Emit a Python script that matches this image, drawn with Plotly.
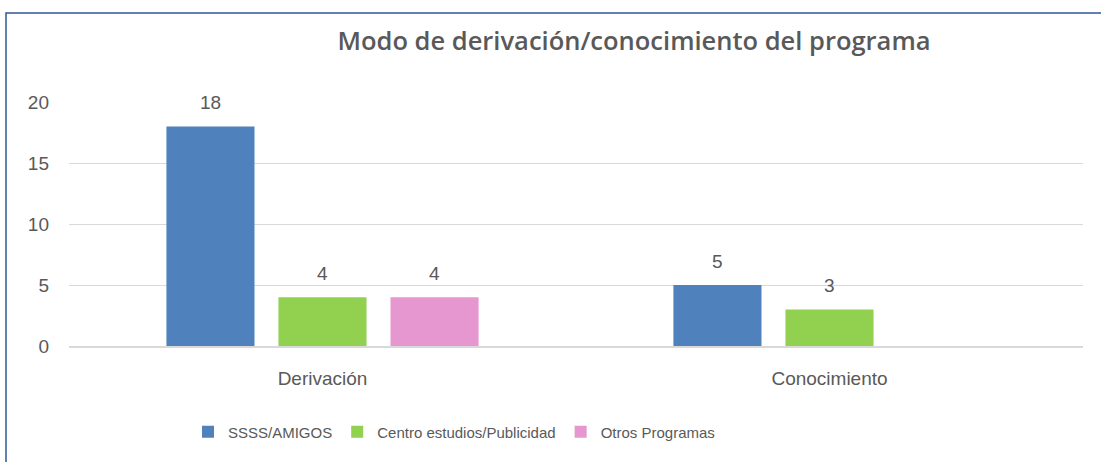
import plotly.graph_objects as go

categories = ["Derivación", "Conocimiento"]
series_names = ["SSSS/AMIGOS", "Centro estudios/Publicidad", "Otros Programas"]
ssss_amigos = [18, 5]
centro_estudios = [4, 3]
otros_programas = [4, None]
colors = ["#4F81BD", "#92D050", "#E697D0"]
y_ticks = [0, 5, 10, 15, 20]

W, H = 1101, 462
L, R, T, B = 69, 18, 102, 116
pw, ph = W - L - R, H - T - B

def px_x(px):
    return (px - L) / pw

def px_y(py):
    return (H - B - py) / ph

FONT = "Liberation Sans, Arial, sans-serif"
TXT = "#595959"

fig = go.Figure()
all_series = [ssss_amigos, centro_estudios, otros_programas]
for name, vals, col in zip(series_names, all_series, colors):
    fig.add_trace(go.Bar(
        x=categories, y=vals, name=name, marker=dict(color=col, line=dict(width=0)),
    ))

# data labels
slot_pitch = 112
for i, vals in enumerate(all_series):
    for cat, v in zip(categories, vals):
        if v is None:
            continue
        fig.add_annotation(x=cat, y=v, text=str(v), showarrow=False,
                           xshift=(i - 1) * slot_pitch, yshift=24, yanchor="middle",
                           font=dict(family=FONT, size=19, color=TXT))

fig.update_layout(
    width=W, height=H,
    margin=dict(l=L, r=R, t=T, b=B),
    paper_bgcolor="white", plot_bgcolor="white",
    barmode="group", bargap=0.337, bargroupgap=0.214,
    title=dict(text="Modo de derivación/conocimiento del programa",
               x=px_x(634), xref="paper", xanchor="center",
               y=1 - 41 / H, yanchor="middle",
               font=dict(family="Open Sans, sans-serif", size=25.5, color=TXT, weight=600)),
    legend=dict(orientation="h", x=px_x(188), xanchor="left", y=px_y(432), yanchor="middle",
                font=dict(family=FONT, size=15, color=TXT),
                itemwidth=30, bgcolor="rgba(0,0,0,0)"),
    showlegend=True,
)
fig.update_yaxes(range=[0, 20], tickvals=y_ticks, showgrid=True, gridcolor="#D9D9D9", gridwidth=1,
                 zeroline=False, showline=False, ticks="", ticklabelstandoff=19,
                 tickfont=dict(family=FONT, size=19, color=TXT))
fig.update_xaxes(showline=True, linecolor="#D9D9D9", linewidth=2, ticks="", ticklabelstandoff=14,
                 tickfont=dict(family=FONT, size=19, color=TXT))

fig.add_shape(type="rect", xref="paper", yref="paper",
              x0=px_x(6), x1=px_x(W + 20), y0=px_y(H + 20), y1=px_y(13),
              line=dict(color="#2F5597", width=1.5), fillcolor="rgba(0,0,0,0)", layer="below")

fig.write_html("out.html", config={"displayModeBar": False},
               post_script="document.body.style.margin='0px';")
